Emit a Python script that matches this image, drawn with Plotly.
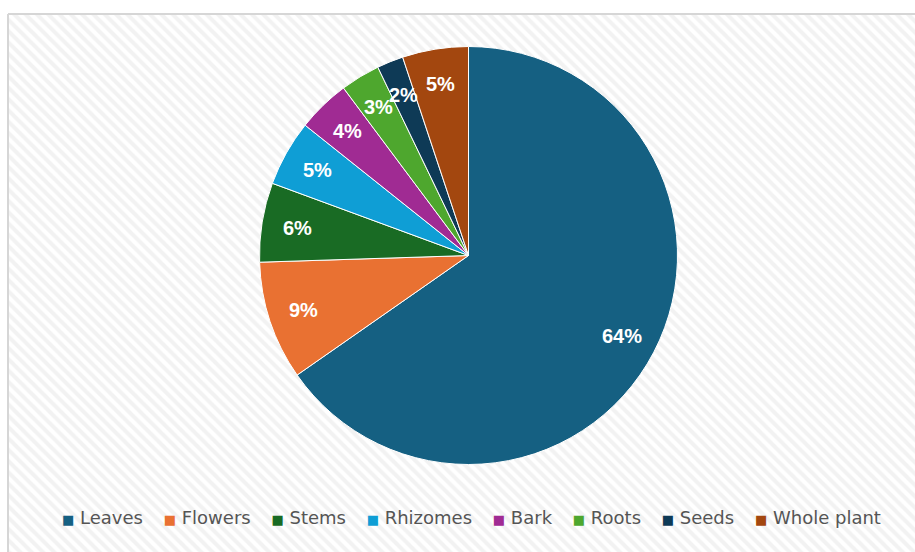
import math
import plotly.graph_objects as go

# ---- data ----
categories = ["Leaves", "Flowers", "Stems", "Rhizomes", "Bark", "Roots", "Seeds", "Whole plant"]
values = [64, 9, 6, 5, 4, 3, 2, 5]
colors = ["#156082", "#e97132", "#196b24", "#0f9ed5", "#a02b93", "#4ea72e", "#0e3a56", "#a3470f"]

W, H = 915, 552
cx, cy, r = 468.5, 255.5, 209  # pie centre / radius in px (top-based y)

fig = go.Figure()

# hatched chart-area background with light border
fig.add_trace(go.Scatter(
    x=[8, 930, 930, 8, 8], y=[14, 14, 570, 570, 14],
    mode="lines", fill="toself",
    line=dict(color="#d6d6d6", width=2),
    fillcolor="white",
    fillpattern=dict(shape="\\", fgcolor="#e6e6e6", bgcolor="white", size=8, solidity=0.5),
    hoverinfo="skip", showlegend=False,
))

fig.add_trace(go.Pie(
    labels=categories, values=values, sort=False, direction="clockwise", rotation=0,
    marker=dict(colors=colors, line=dict(color="white", width=1)),
    textinfo="none", showlegend=False,
    domain=dict(x=[(cx - r) / W, (cx + r) / W], y=[1 - (cy + r) / H, 1 - (cy - r) / H]),
))

# percentage labels placed along each slice bisector
total = sum(values)
cum = 0
annotations = []
for v in values:
    theta = 2 * math.pi * (cum + v / 2) / total
    cum += v
    k = 0.83
    px = cx + k * r * math.sin(theta)
    py = cy - k * r * math.cos(theta)
    annotations.append(dict(
        x=px / W, y=1 - py / H, xref="paper", yref="paper", showarrow=False,
        text=f"{v}%", font=dict(family="Liberation Sans, Arial", size=20, color="white", weight="bold"),
        xanchor="center", yanchor="middle",
    ))

# legend row
sp = "\u00a0"
items = []
for c, name in zip(colors, categories):
    items.append(f"<span style='color:{c};font-size:13px'>■</span>{sp}{name}")
legend_text = (sp * 3 + "\u2009").join(items)
annotations.append(dict(
    x=472 / W, y=1 - 517 / H, xref="paper", yref="paper", showarrow=False,
    text=legend_text, font=dict(family="DejaVu Sans", size=18, color="#555555"),
    xanchor="center", yanchor="middle",
))

fig.update_layout(
    width=W, height=H, margin=dict(l=0, r=0, t=0, b=0),
    paper_bgcolor="white", plot_bgcolor="rgba(0,0,0,0)",
    xaxis=dict(range=[0, W], visible=False, fixedrange=True),
    yaxis=dict(range=[H, 0], visible=False, fixedrange=True),
    annotations=annotations,
)

fig.write_html("out.html")
